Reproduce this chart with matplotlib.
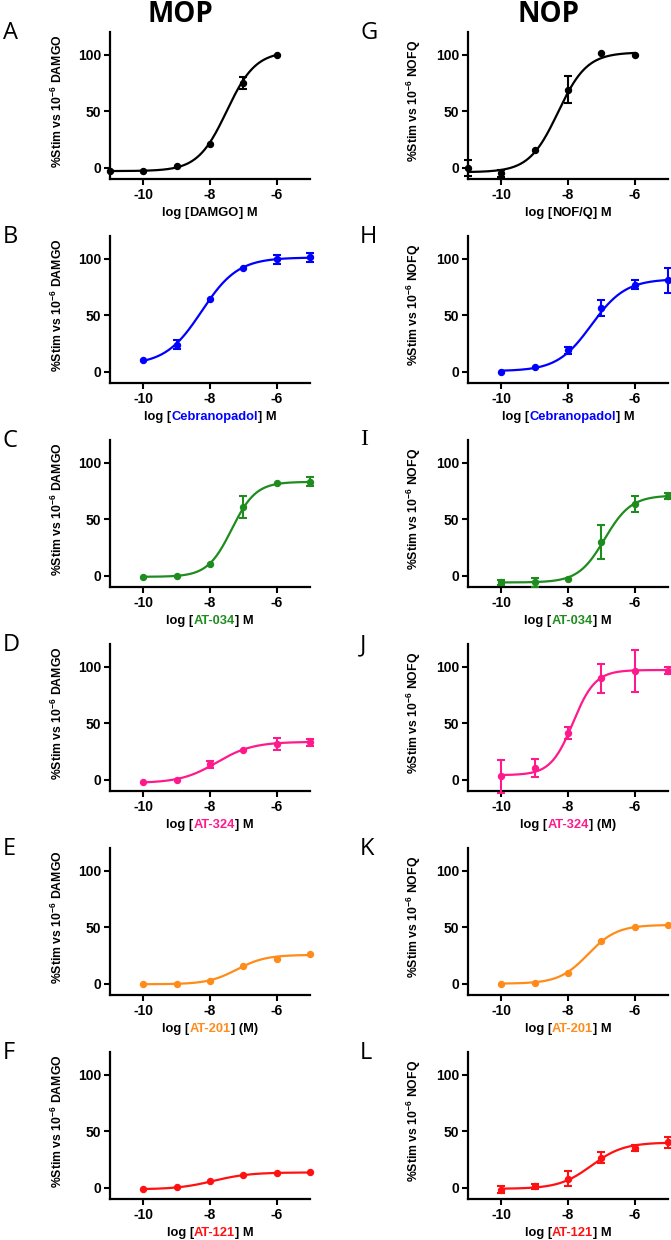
import numpy as np
import matplotlib.pyplot as plt

plt.rcParams['font.family'] = ['Liberation Sans', 'DejaVu Sans']
plt.rcParams['font.weight'] = 'bold'
plt.rcParams['axes.unicode_minus'] = False
plt.rcParams['mathtext.fontset'] = 'custom'
plt.rcParams['mathtext.rm'] = 'Liberation Sans:bold'
plt.rcParams['mathtext.bf'] = 'Liberation Sans:bold'
plt.rcParams['mathtext.default'] = 'bf'

# log concentrations
conc_ref = [-11, -10, -9, -8, -7, -6]
conc_test = [-10, -9, -8, -7, -6, -5]

# MOP (% stim vs 1uM DAMGO)
mop_damgo = [-2.7, -2.7, 1.5, 20.7, 75.0, 100.0]
mop_damgo_err = [0, 0, 0, 0, 5, 0]
mop_cebra = [9.9, 24.0, 64.0, 91.6, 99.4, 101.0]
mop_cebra_err = [0, 4, 0, 0, 4, 4]
mop_at034 = [-1.0, 0.0, 10.0, 60.7, 82.4, 83.0]
mop_at034_err = [0, 0, 0, 10, 0, 4]
mop_at324 = [-2.0, -0.6, 13.6, 26.4, 31.5, 33.2]
mop_at324_err = [0, 0, 3, 0, 5, 3]
mop_at201 = [-0.6, 0.0, 2.0, 16.0, 21.8, 26.6]
mop_at201_err = [0, 0, 0, 0, 0, 0]
mop_at121 = [-1.0, 0.6, 6.0, 10.8, 12.6, 13.5]
mop_at121_err = [0, 0, 0, 0, 0, 0]

# NOP (% stim vs 1uM N/OFQ)
nop_nofq = [0.0, -5.0, 16.0, 69.0, 101.5, 100.0]
nop_nofq_err = [7, 3, 0, 12, 0, 0]
nop_cebra = [0.0, 4.0, 19.0, 56.0, 77.0, 81.0]
nop_cebra_err = [0, 0, 3, 7, 4, 11]
nop_at034 = [-6.0, -6.0, -3.0, 29.5, 63.7, 70.5]
nop_at034_err = [2, 4, 0, 15, 7, 3]
nop_at324 = [3.0, 10.0, 41.4, 89.6, 95.8, 96.4]
nop_at324_err = [14.5, 8, 5, 12.5, 18.5, 3]
nop_at201 = [0.0, 0.6, 9.3, 38.0, 50.3, 51.8]
nop_at201_err = [0, 0, 0, 0, 0, 0]
nop_at121 = [-1.8, 1.2, 8.0, 26.6, 35.0, 40.0]
nop_at121_err = [3, 2.5, 6.5, 5, 2.5, 5]

# fitted curve parameters: bottom, top, logEC50, hill
mop_damgo_fit = [-3, 103, -7.5, 1.0]
mop_cebra_fit = [6, 101, -8.25, 0.8]
mop_at034_fit = [-1, 83, -7.35, 1.2]
mop_at324_fit = [-3, 33.5, -7.8, 0.8]
mop_at201_fit = [-0.5, 25.5, -7.2, 1.0]
mop_at121_fit = [-1.5, 13.5, -7.9, 0.8]
nop_nofq_fit = [-4, 102, -8.3, 1.0]
nop_cebra_fit = [0.5, 82, -7.3, 0.85]
nop_at034_fit = [-6, 71, -6.9, 1.1]
nop_at324_fit = [4, 97, -7.85, 1.3]
nop_at201_fit = [0, 52, -7.4, 1.0]
nop_at121_fit = [-1, 40, -7.3, 0.9]

drug_colors = {'DAMGO': 'black', 'NOF/Q': 'black', 'Cebranopadol': '#0000ff',
               'AT-034': '#1e8c1e', 'AT-324': '#ff1a8c', 'AT-201': '#ff8c1a',
               'AT-121': '#ff1111'}

# letter, drug, x, y, err, fit, unit suffix
mop_panels = [
    ('A', 'DAMGO', conc_ref, mop_damgo, mop_damgo_err, mop_damgo_fit, '] M'),
    ('B', 'Cebranopadol', conc_test, mop_cebra, mop_cebra_err, mop_cebra_fit, '] M'),
    ('C', 'AT-034', conc_test, mop_at034, mop_at034_err, mop_at034_fit, '] M'),
    ('D', 'AT-324', conc_test, mop_at324, mop_at324_err, mop_at324_fit, '] M'),
    ('E', 'AT-201', conc_test, mop_at201, mop_at201_err, mop_at201_fit, '] (M)'),
    ('F', 'AT-121', conc_test, mop_at121, mop_at121_err, mop_at121_fit, '] M'),
]
nop_panels = [
    ('G', 'NOF/Q', conc_ref, nop_nofq, nop_nofq_err, nop_nofq_fit, '] M'),
    ('H', 'Cebranopadol', conc_test, nop_cebra, nop_cebra_err, nop_cebra_fit, '] M'),
    ('I', 'AT-034', conc_test, nop_at034, nop_at034_err, nop_at034_fit, '] M'),
    ('J', 'AT-324', conc_test, nop_at324, nop_at324_err, nop_at324_fit, '] (M)'),
    ('K', 'AT-201', conc_test, nop_at201, nop_at201_err, nop_at201_fit, '] M'),
    ('L', 'AT-121', conc_test, nop_at121, nop_at121_err, nop_at121_fit, '] M'),
]


def hill(x, p):
    bottom, top, ec50, n = p
    return bottom + (top - bottom) / (1 + 10 ** ((ec50 - x) * n))


W, H = 671, 1240
fig = plt.figure(figsize=(W / 100, H / 100), dpi=100)
renderer = fig.canvas.get_renderer()
xl_size = 9.3


def text_width(s):
    t = fig.text(0, 0, s, fontsize=xl_size, fontweight='bold')
    w = t.get_window_extent(renderer).width
    t.remove()
    return w


row_tops = [32, 236, 440, 644, 848, 1052]
ax_h = 147
ax_w = 200
col_left = [110, 468]
ylabels = ['%Stim vs 10$^{-6}$ DAMGO', '%Stim vs 10$^{-6}$ NOFQ']

for col, panels in enumerate([mop_panels, nop_panels]):
    for row, (letter, drug, xs, ys, errs, fit, suffix) in enumerate(panels):
        top = row_tops[row]
        ax = fig.add_axes([col_left[col] / W, 1 - (top + ax_h) / H, ax_w / W, ax_h / H])
        c = drug_colors[drug]

        xx = np.linspace(min(xs), max(xs), 200)
        ax.plot(xx, hill(xx, fit), color=c, lw=1.6, zorder=2)
        ax.plot(xs, ys, 'o', color=c, ms=4.3, zorder=3, clip_on=False)
        ex = [x for x, e in zip(xs, errs) if e > 0]
        ey = [y for y, e in zip(ys, errs) if e > 0]
        ee = [e for e in errs if e > 0]
        if ee:
            ax.errorbar(ex, ey, yerr=ee, fmt='none', ecolor=c, elinewidth=1.5,
                        capsize=2.8, capthick=1.5, zorder=3, clip_on=False)

        ax.set_xlim(-11, -5)
        ax.set_ylim(-10, 120)
        ax.set_xticks([-10, -8, -6])
        ax.set_yticks([0, 50, 100])
        for s in ['top', 'right']:
            ax.spines[s].set_visible(False)
        for s in ['left', 'bottom']:
            ax.spines[s].set_linewidth(1.6)
        ax.tick_params(width=1.5, length=4, labelsize=10, pad=2.5)
        for lab in ax.get_xticklabels() + ax.get_yticklabels():
            lab.set_fontweight('bold')

        ax.set_ylabel(ylabels[col], fontsize=8.8, fontweight='bold')
        ax.yaxis.set_label_coords(-0.225, 0.53)

        # x label with coloured compound name, built from three pieces on one baseline
        pre = 'log ['
        w_full = text_width(pre + drug + suffix)
        w_pre = text_width(pre)
        w_mid = text_width(pre + drug)
        x0 = col_left[col] + ax_w / 2 - w_full / 2
        ylab = 1 - (top + ax_h + 37) / H
        for s, off, cc in [(pre, 0, 'black'), (drug, w_pre, c), (suffix, w_mid, 'black')]:
            fig.text((x0 + off) / W, ylab, s, fontsize=xl_size, fontweight='bold',
                     color=cc, ha='left', va='baseline')

        lx = 3 if col == 0 else 360
        fam = ['Liberation Serif'] if letter == 'I' else ['Open Sans', 'DejaVu Sans']
        fig.text(lx / W, 1 - (top - 11) / H, letter, fontsize=17, fontweight='normal',
                 family=fam, va='top', ha='left')

fig.text(180 / W, 1 - 14 / H, 'MOP', fontsize=20, fontweight='bold',
         family=['Open Sans', 'DejaVu Sans'], ha='center', va='center')
fig.text(548 / W, 1 - 14 / H, 'NOP', fontsize=20, fontweight='bold',
         family=['Open Sans', 'DejaVu Sans'], ha='center', va='center')

fig.savefig('out.png', dpi=100)
